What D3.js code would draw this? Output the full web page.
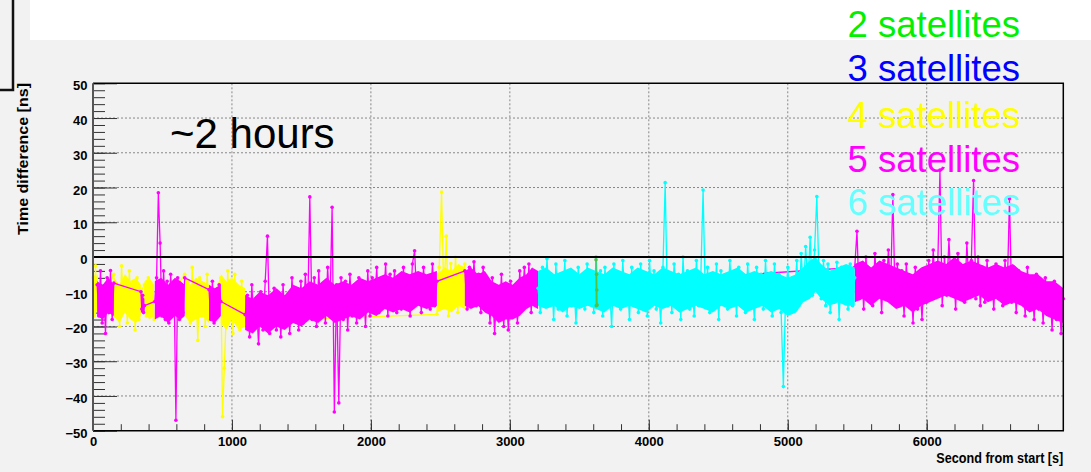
<!DOCTYPE html>
<html>
<head>
<meta charset="utf-8">
<script src="https://cdn.jsdelivr.net/npm/d3@7"></script>
<style>
  body { margin: 0; background: #f2f2f2; }
  svg { display: block; }
  text { font-family: "Liberation Sans", Arial, sans-serif; }
</style>
</head>
<body>
<div id="viz"></div>
<script>
// time difference [ns], one array per uninterrupted run
var yellow1 = [-6, -17, -2.5, -13, -15];
var yellow2 = [-5, -17, -8, -20, -2.5, -15, -9, -19, -4, -16, -7, -21, -6, -18, -10];
var yellow3 = [-8, -17, -6, -16, -9, -18];
var yellow4 = [-5, -16, -7, -19, -3, -14, -9, -24, -6, -17, -8, -20, -5, -15];
var yellow5 = [-6, -46, -32, -18, -4, -17, -9, -22, -5, -15, -11, -21, -7, -19, -18.5];
var yellow6 = [-16.5, -3, 18.7, -12, 6, -17, -1.9, -14, 0, -16, -4, -12, -2];

var magenta1 = [-8, -17, -4, -19, -9, -22, -6, -16, -3.9, -18, -7.5];
var magenta2 = [-10, -15, -11, -16, -14];
var magenta3 = [-12.8, -6, 18.5, 4, -17, -4, -18, -7, -19, -5, -15, -9, -47, -6, -18, -8, -16, -6];
var magenta4 = [-9.4, -18, -7, -19, -10, -17, -8, -12.8];
var magenta5 = [-16.6, -11, -23, -8, -20, -12, -25, -10, -21, -7, 6, -22, -13,
  -9, -21, -11, -23, -8, -19, -12, -22, -6, -18, -10, -21, -7,
  -19, -5, -17, 17.3, -18, -6, -20, -4, -16, -9, -19, -3, -15, 14.3, -44.6, -8, -42, -6,
  -18, -7, -21, -5, -17, -10, -19, -6, -16, -8, -20, -4, -17,
  -6, -15, -3, -16, -7, -14, -2, -17, -5, -13, -4, -16, -8, -15, -3, -14, -6, -17, -2, 1.8,
  -13, -5, -16, -3, -12, -6, -15, -2, -14, -7];
var magenta6 = [-4, -15, -3, -13, -1.4, -14, -5, -16, -3, -12, -7, -19, -6, -22, -9, -18, -5,
  -20, -8, -21, -7, -17, -10, -19, -4, -15, -3, -14, -2, -16, -5, -13, -9];
var magenta7 = [-3, 7.4, -12, -2, -15, 0, -10, -4, -14, 1, -11, -3, -16, -1, -12, 2, -9, 18, -13, -2,
  -14, -4, -17, -2, -12, -6, -19, -3, -15, -7, -18, -4, -13,
  -1, -12, 2, -9, -3, 25, -14, 0, -11, 5, -8, -2, -15, 1, -10, -4, -13, 4, -9, -1, 22, -12, 0, -14, -3,
  -13, -1, -11, -4, -15, -2, -12, -5, -14, -1, -10, 16.8, -13, -3, -16, -4, -12, -6, -17, -3, -14,
  -7, -18, -5, -15, -8, -19, -6, -16, -9, -21, -7, -18, -10, -22, -12];

var cyan1 = [-9, -16, -3, -14, -0.5, -12, -5, -18, -2, -15, -6, -13, -1, -17, -4, -14, -7, -19, -3, -12,
  -5, -15, -2, -13, -6, -16, 0, -11, -4, -17, -3, -14, -8, -20, -2, -12, -5, -15, -1, -13,
  -6, -18, -3, -14, -7, -16, -2, -12, -5, -17, -1, -13, -4, -15, -8, -19, -3,
  21.4, -14, -6, -16, -2, -12, -5, -18, 0, -13, -4, -15, -7, -17, -1, -14, -5, 19.3, -12, -3,
  -16, -6, -14, -2, -18, -4, -13, -7, -15, -1, -12, -5, -17, -3, -14, -6, -16, -2, -13, -8,
  -18, -3, -12, -5, -15, -1, -14, -7, -17, -2, -13, -5, -16, -37.3, -11, -3, -15, -6, -12, -1, -14,
  1, -10, 3, -8, 5.7, -11, 2, 17.4, -6, -12, -1, -14, -2, -16, -4, -13, -1.5, -18, -3, -12,
  -5, -15, -2, -14, -6];

var green1 = [-0.8, -14, -5, -9.5, -13.8];

// dense core of each run: [s, upper ns, lower ns]
var yellowCore = [
  [[0, -4, -15], [18, -6, -17], [36, -5, -14]],
  [[150, -6, -17], [190, -8, -19], [230, -5, -16], [270, -7, -18], [310, -6, -19], [345, -8, -17]],
  [[370, -7, -16], [405, -6, -18], [440, -8, -17]],
  [[660, -6, -17], [700, -8, -19], [740, -6, -18], [790, -7, -17], [835, -8, -19]],
  [[920, -5, -19], [960, -7, -21], [1000, -6, -18], [1050, -8, -21], [1095, -9, -20]],
  [[2475, -5, -16], [2530, -3, -15], [2580, -4, -16], [2630, -2, -14], [2676, -3, -15]]
];
var magentaCore = [
  [[30, -7, -17], [70, -8, -18], [110, -6, -16], [150, -8, -17]],
  [[345, -11, -16], [370, -12, -16]],
  [[445, -7, -18], [490, -6, -17], [540, -8, -19], [590, -6, -17], [630, -7, -18], [660, -8, -17]],
  [[835, -8, -18], [875, -9, -19], [920, -8, -17]],
  [[1095, -11, -21], [1150, -12, -22], [1200, -10, -20], [1260, -11, -22], [1320, -9, -20], [1380, -11, -21],
   [1440, -8, -19], [1500, -9, -20], [1560, -7, -18], [1620, -8, -19], [1680, -6, -17], [1740, -8, -19],
   [1800, -7, -18], [1860, -8, -17], [1920, -6, -18], [1980, -7, -16], [2040, -6, -17], [2100, -5, -15],
   [2160, -6, -16], [2220, -4, -15], [2280, -5, -16], [2340, -4, -14], [2400, -5, -15], [2475, -4, -14]],
  [[2676, -4, -14], [2720, -3, -15], [2770, -5, -14], [2820, -4, -16], [2870, -7, -17], [2920, -8, -19],
   [2970, -7, -18], [3020, -8, -18], [3070, -6, -17], [3120, -5, -15], [3160, -3, -14], [3203, -4, -15]],
  [[5482, -2, -13], [5540, -1, -12], [5600, -3, -14], [5660, -1, -12], [5720, -2, -13], [5780, -3, -15],
   [5840, -4, -14], [5900, -5, -16], [5960, -3, -14], [6020, -2, -13], [6080, -1, -12], [6140, -2, -11],
   [6200, 0, -12], [6260, -2, -13], [6320, -1, -12], [6380, -2, -11], [6440, -3, -13], [6500, -2, -12],
   [6560, -3, -14], [6620, -2, -13], [6680, -4, -14], [6740, -5, -16], [6800, -5, -15], [6860, -7, -17],
   [6920, -7, -18], [6983, -9, -19]]
];
var cyanCore = [
  [[3203, -4, -14], [3260, -3, -15], [3320, -5, -14], [3380, -4, -16], [3440, -3, -14], [3500, -5, -15],
   [3560, -3, -14], [3620, -4, -15], [3680, -5, -16], [3740, -3, -14], [3800, -4, -15], [3860, -5, -14],
   [3920, -3, -15], [3980, -4, -16], [4040, -5, -14], [4100, -3, -15], [4160, -4, -14], [4220, -5, -16],
   [4280, -4, -15], [4340, -3, -14], [4400, -5, -15], [4460, -4, -16], [4520, -5, -14], [4580, -4, -15],
   [4640, -3, -14], [4700, -5, -16], [4760, -4, -15], [4820, -5, -14], [4880, -4, -16], [4940, -5, -15],
   [5000, -6, -17], [5060, -5, -16], [5110, -3, -13], [5160, -1, -12], [5200, 0, -10], [5240, -2, -12],
   [5300, -4, -14], [5360, -3, -13], [5420, -2, -14], [5482, -3, -14]]
];

// [start s, end s, values]
var yellowRuns = [[0, 36, yellow1], [150, 345, yellow2], [370, 440, yellow3],
  [660, 835, yellow4], [920, 1095, yellow5], [2475, 2676, yellow6]];
var magentaRuns = [[30, 150, magenta1], [345, 370, magenta2], [445, 660, magenta3],
  [835, 920, magenta4], [1095, 2475, magenta5], [2676, 3203, magenta6], [5482, 6983, magenta7]];
var cyanRuns = [[3203, 5482, cyan1]];
var greenRuns = [[3620, 3628, green1]];

var legendLabels = ["2 satellites", "3 satellites", "4 satellites", "5 satellites", "6 satellites"];
var legendColors = ["#00f000", "#0000ff", "#ffff00", "#ff00ff", "#66ffff"];
var yTicks = [50, 40, 30, 20, 10, 0, -10, -20, -30, -40, -50];
var xTicks = [0, 1000, 2000, 3000, 4000, 5000, 6000];

var W = 1091, H = 472;
var pLeft = 93, pRight = 1063.3, pTop = 83.3, pBottom = 430.7;

var svg = d3.select("#viz").append("svg").attr("width", W).attr("height", H);
svg.append("rect").attr("width", W).attr("height", H).attr("fill", "#f2f2f2");
svg.append("rect").attr("x", 30).attr("y", 0).attr("width", W - 30).attr("height", 40).attr("fill", "#ffffff");
svg.append("path").attr("d", "M13,0V90H0").attr("fill", "none").attr("stroke", "#111").attr("stroke-width", 2.5);

var x = d3.scaleLinear().domain([0, 6983]).range([pLeft, pRight]);
var y = d3.scaleLinear().domain([-50, 50]).range([pBottom, pTop]);

// grid
var grid = svg.append("g").attr("stroke", "#888").attr("stroke-width", 1).attr("stroke-dasharray", "2,2");
grid.selectAll(".gx").data(xTicks.filter(function (d) { return d > 0; })).enter().append("line")
  .attr("x1", function (d) { return x(d); }).attr("x2", function (d) { return x(d); })
  .attr("y1", pTop).attr("y2", pBottom);
grid.selectAll(".gy").data(yTicks.filter(function (d) { return d !== 0 && Math.abs(d) < 50; })).enter().append("line")
  .attr("x1", pLeft).attr("x2", pRight)
  .attr("y1", function (d) { return y(d); }).attr("y2", function (d) { return y(d); });

// axes
var yMinor = d3.axisLeft(y).tickValues(d3.range(-50, 51, 2)).tickSize(-12).tickSizeOuter(0).tickFormat("");
svg.append("g").attr("transform", "translate(" + pLeft + ",0)").call(yMinor);
var yAxis = d3.axisLeft(y).tickValues(yTicks).tickSize(-24).tickSizeOuter(0).tickPadding(5.5);
var gy = svg.append("g").attr("class", "y axis").attr("transform", "translate(" + pLeft + ",0)").call(yAxis);
gy.selectAll("text").attr("dy", "0.5em").style("font-size", "13px").style("font-weight", "bold").attr("fill", "#000");

var xMinor = d3.axisBottom(x).tickValues(d3.range(0, 6983, 200)).tickSize(-6.5).tickSizeOuter(0).tickFormat("");
svg.append("g").attr("transform", "translate(0," + pBottom + ")").call(xMinor);
var xAxis = d3.axisBottom(x).tickValues(xTicks).tickSize(-11).tickSizeOuter(0).tickPadding(6).tickFormat(d3.format("d"));
var gx = svg.append("g").attr("class", "x axis").attr("transform", "translate(0," + pBottom + ")").call(xAxis);
gx.selectAll("text").style("font-size", "13px").style("font-weight", "bold").attr("fill", "#000");

svg.selectAll(".tick line").attr("stroke", "#333");
svg.selectAll(".domain").attr("stroke", "none");

// data
var series = [
  { runs: yellowRuns, core: yellowCore, color: "#ffff00" },
  { runs: magentaRuns, core: magentaCore, color: "#ff00ff" },
  { runs: cyanRuns, core: cyanCore, color: "#00ffff" },
  { runs: greenRuns, core: [], color: "#55c040" }
];
function toPoints(runs) {
  var pts = [];
  runs.forEach(function (r) {
    var t0 = r[0], t1 = r[1], vals = r[2];
    vals.forEach(function (v, i) {
      pts.push({ t: t0 + (t1 - t0) * i / (vals.length - 1), v: v });
    });
  });
  return pts;
}
var line = d3.line().x(function (d) { return x(d.t); }).y(function (d) { return y(d.v); });
var area = d3.area()
  .x(function (d) { return x(d[0]); })
  .y0(function (d) { return y(d[2]); })
  .y1(function (d) { return y(d[1]); });
var plot = svg.append("g");
series.forEach(function (s) {
  var pts = toPoints(s.runs);
  plot.append("path").datum(pts).attr("d", line)
    .attr("fill", "none").attr("stroke", s.color).attr("stroke-width", 1.3);
  s.core.forEach(function (c) {
    plot.append("path").datum(c).attr("d", area).attr("fill", s.color);
  });
  plot.selectAll(null).data(pts).enter().append("circle")
    .attr("cx", function (d) { return x(d.t); }).attr("cy", function (d) { return y(d.v); })
    .attr("r", 1.8).attr("fill", s.color);
});

// zero line and frame
svg.append("line").attr("x1", pLeft).attr("x2", pRight).attr("y1", y(0)).attr("y2", y(0))
  .attr("stroke", "#000").attr("stroke-width", 2);
svg.append("path").attr("d", "M" + pLeft + "," + pTop + "H" + pRight + "V" + pBottom + "H" + pLeft)
  .attr("fill", "none").attr("stroke", "#000").attr("stroke-width", 1.5);
svg.append("line").attr("x1", pLeft).attr("x2", pLeft).attr("y1", pTop).attr("y2", pBottom)
  .attr("stroke", "#555").attr("stroke-width", 2);

// axis titles
svg.append("text").attr("transform", "translate(28,235) rotate(-90)")
  .attr("text-anchor", "start").style("font-size", "15px").style("font-weight", "bold")
  .attr("textLength", 152).attr("lengthAdjust", "spacingAndGlyphs")
  .text("Time difference [ns]");
svg.append("text").attr("x", pRight - 127).attr("y", 463.3)
  .style("font-size", "15px").style("font-weight", "bold")
  .attr("textLength", 127).attr("lengthAdjust", "spacingAndGlyphs")
  .text("Second from start [s]");

// annotations
svg.append("text").attr("x", 170).attr("y", 148.3).style("font-size", "42px").attr("fill", "#000").text("~2 hours");
svg.selectAll(".leg").data(legendLabels).enter().append("text")
  .attr("x", 847.5)
  .attr("y", function (d, i) { return [37, 81, 127.5, 171.5, 215][i]; })
  .style("font-size", "36.5px")
  .attr("fill", function (d, i) { return legendColors[i]; })
  .text(function (d) { return d; });
</script>
</body>
</html>
